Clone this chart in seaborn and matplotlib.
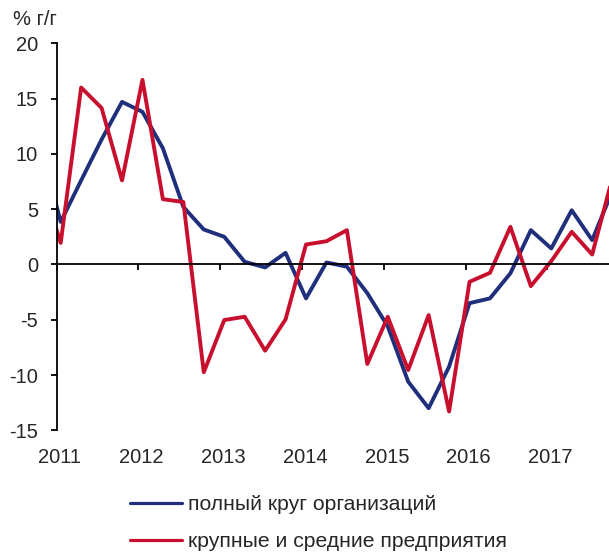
import numpy as np
import pandas as pd
import matplotlib
matplotlib.use("Agg")
import matplotlib.pyplot as plt
import seaborn as sns
from matplotlib.lines import Line2D

# Quarters 2010Q4 .. 2017Q4
quarters = ["2010Q4"] + [f"{y}Q{q}" for y in range(2011, 2018) for q in range(1, 5)]
full_circle = [10.8, 3.85, 7.6, 11.3, 14.7, 13.8, 10.5, 5.2,
               3.16, 2.5, 0.24, -0.27, 1.05, -3.07, 0.18, -0.2,
               -2.6, -5.6, -10.6, -13.0, -9.25, -3.5, -3.07, -0.8,
               3.1, 1.45, 4.9, 2.2, 6.7]
large_medium = [7.8, 1.95, 16.0, 14.15, 7.6, 16.7, 5.9, 5.65,
                -9.75, -5.03, -4.73, -7.8, -4.97, 1.8, 2.1, 3.1,
                -9.0, -4.73, -9.55, -4.58, -13.3, -1.57, -0.76, 3.4,
                -1.96, 0.3, 2.95, 0.9, 7.9]
series_names = ["полный круг организаций", "крупные и средние предприятия"]
year_labels = ["2011", "2012", "2013", "2014", "2015", "2016", "2017"]
y_ticks = [-15, -10, -5, 0, 5, 10, 15, 20]

sns.set_style("white")
plt.rcParams["font.family"] = ["Liberation Sans", "DejaVu Sans"]

def q_to_x(s):
    y, q = int(s[:4]), int(s[-1])
    return y + (q - 1) * 0.25 + 0.049

x = [q_to_x(s) for s in quarters]
df = pd.DataFrame({"x": x * 2,
                   "v": full_circle + large_medium,
                   "s": [series_names[0]] * len(x) + [series_names[1]] * len(x)})

fig = plt.figure(figsize=(6.09, 5.55), dpi=100)
ax = fig.add_axes([56.7 / 609, 1 - 430.3 / 555, 1 - 56.7 / 609, (430.3 - 43.3) / 555])

palette = {series_names[0]: "#1f2f7c", series_names[1]: "#c8102e"}
sns.lineplot(data=df, x="x", y="v", hue="s", palette=palette, hue_order=series_names,
             linewidth=2.8, ax=ax, legend=False, sort=False)

ax.set_xlim(2011, 2017.755)
ax.set_ylim(-15, 20)
ax.set_xlabel("")
ax.set_ylabel("")

for sp in ["top", "right"]:
    ax.spines[sp].set_visible(False)
ax.spines["left"].set_color("black")
ax.spines["left"].set_linewidth(1.3)
ax.spines["bottom"].set_position(("data", 0))
ax.spines["bottom"].set_color("black")
ax.spines["bottom"].set_linewidth(1.3)

years = [int(y) for y in year_labels]
ax.set_xticks(years)
ax.tick_params(axis="x", direction="out", length=4.5, width=1.3, color="black",
               labelbottom=False, bottom=True)
ax.set_yticks(y_ticks)
ax.set_yticklabels([str(v) for v in y_ticks])
ax.tick_params(axis="y", direction="out", length=4.5, width=1.3, color="black",
               labelsize=14.5, pad=9, left=True)

sec = ax.secondary_xaxis("bottom")
sec.set_xticks([y + 0.04 for y in years])
sec.set_xticklabels(year_labels)
sec.tick_params(length=0, pad=12.5, labelsize=14.5)
sec.spines["bottom"].set_visible(False)

fig.text(13 / 609, 1 - 25 / 555, "% г/г", fontsize=14.5, ha="left", va="baseline")

handles = [Line2D([], [], color=palette[n], linewidth=2.3) for n in series_names]
fig.legend(handles, series_names, loc="upper left",
           bbox_to_anchor=(111 / 609, 1 - 476 / 555), frameon=False,
           fontsize=15.25, handlelength=2.45, handletextpad=0.3, labelspacing=0.87)

fig.savefig("out.png", dpi=100)
